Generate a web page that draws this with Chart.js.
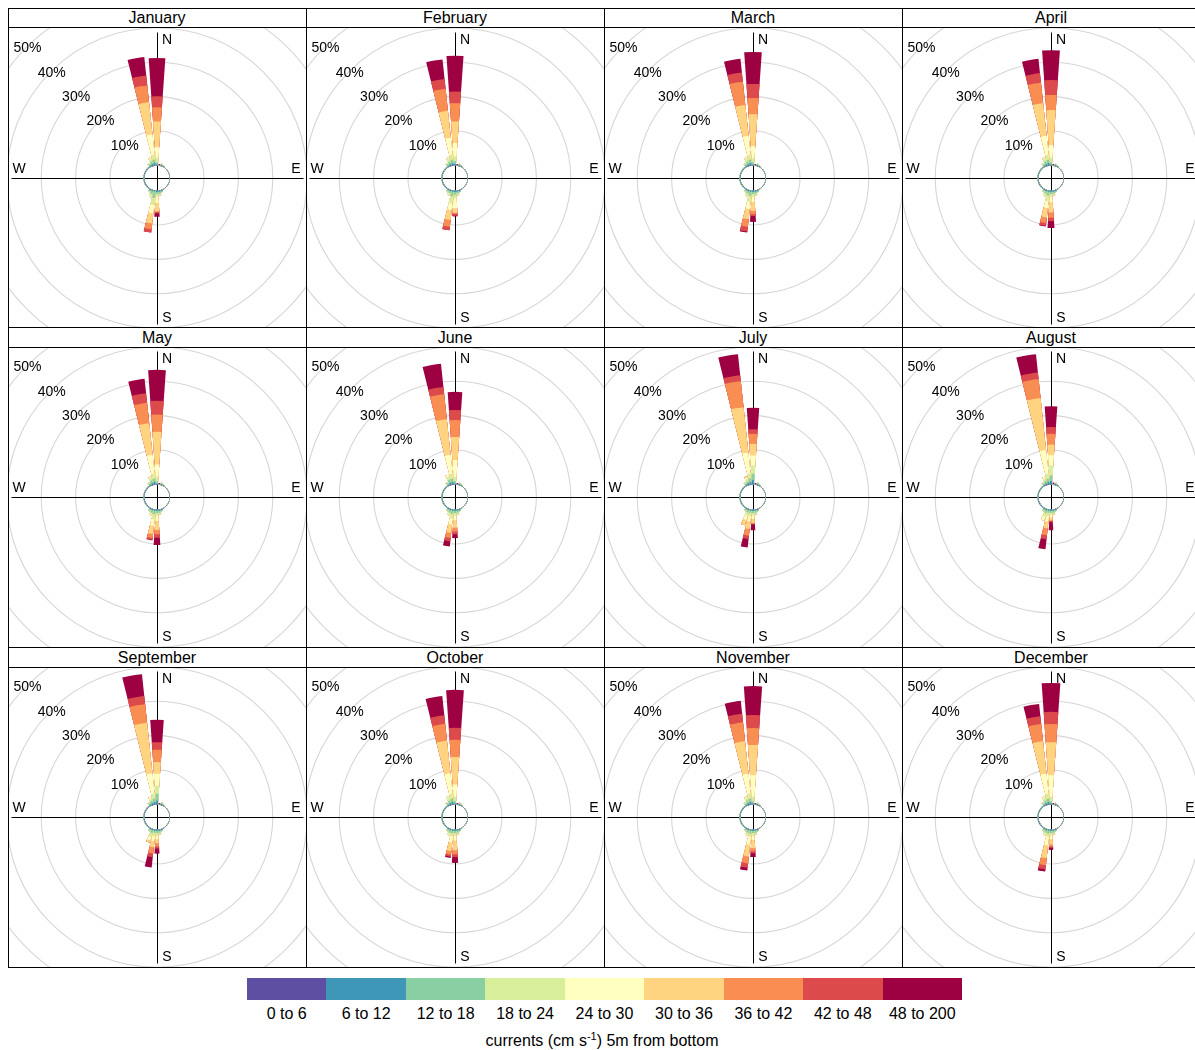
<!DOCTYPE html>
<html>
<head>
<meta charset="utf-8">
<script src="https://cdn.jsdelivr.net/npm/chart.js@4.4.1/dist/chart.umd.min.js"></script>
<style>
  body { margin: 0; background: #fff; font-family: "Liberation Sans", Arial, sans-serif; }
  #root { position: relative; width: 1195px; height: 1050px; overflow: hidden; background: #fff; }
  .plot { position: absolute; overflow: hidden; }
  .plot canvas { position: absolute; }
  .strip { position: absolute; width: 298px; text-align: center; font-size: 16px; color: #000; }
  .hl { position: absolute; height: 1px; background: #000; z-index: 5; }
  .vl { position: absolute; width: 1px; background: #000; z-index: 5; }
  .lbl { position: absolute; transform: translate(-50%, -50%); white-space: nowrap; color: #000; font-size: 14px; z-index: 4; }
  .sw { position: absolute; top: 978px; height: 22px; }
  .leg { position: absolute; transform: translate(-50%, -50%); white-space: nowrap; color: #000; font-size: 16px; }
</style>
</head>
<body>
<div id="root"></div>
<script>
// ---------------- DATA ----------------
const months = ['January','February','March','April','May','June','July','August','September','October','November','December'];
const directions = [0,10,20,30,40,50,60,70,80,90,100,110,120,130,140,150,160,170,180,190,200,210,220,230,240,250,260,270,280,290,300,310,320,330,340,350];
const speedBins = ['0 to 6','6 to 12','12 to 18','18 to 24','24 to 30','30 to 36','36 to 42','42 to 48','48 to 200'];
const ringTicks = [0,10,20,30,40,50];
const legendTitle = 'currents (cm s<sup>-1</sup>) 5m from bottom';

// one row per direction (0°..350°), columns = % frequency per speed bin (trailing zeros omitted)
const january = [
  [.1,.2,.6,1.3,3.1,7.5,4.1,3.2,11.1], [.05,.1,0,0,0,0,0,0,.3], [.1,.2,.3,.1], [.1,.15,.1],
  [.08,.05],[.08,.05],[.08,.05],[.08,.05],[.08,.05],[.08,.05],[.08,.05],[.08,.05],[.08,.05],[.08,.05],[.08,.05],[.08,.08],
  [.1,.3,.3], [.1,.3,.6,.4], [.1,.3,.6,.7,1.9,2.4,.3,.3,1.0], [.1,.2,1.9,2.0,2.5,2.9,1.7,1.0],
  [.1,.3,.8,.7,.3], [.1,.3,.4,.2],
  [.08,.22],[.08,.22],[.08,.22],[.08,.22],[.08,.22],[.08,.22],[.08,.22],[.08,.22],[.08,.22],[.08,.22],[.08,.22],
  [.1,.3,.5,.3], [.2,.4,.8,.8,.4], [.2,.6,.9,1.5,5.9,9.4,4.9,2.9,5.4]
];
const february = [
  [.1,.3,.9,1.3,3.9,6.3,5.3,3.4,10.4], [.05,.1,0,0,0,0,0,0,.3], [.1,.2,.3,.1], [.1,.15,.1],
  [.08,.05],[.08,.05],[.08,.05],[.08,.05],[.08,.05],[.08,.05],[.08,.05],[.08,.05],[.08,.05],[.08,.05],[.08,.05],[.08,.08],
  [.1,.3,.3], [.1,.3,.6,.4], [.1,.3,.8,1.0,2.9,1.4,.2,.6,.2], [.1,.3,1.3,2.0,2.0,2.9,2.0,1.0],
  [.1,.3,.6,.5,.2], [.1,.3,.4,.2],
  [.08,.22],[.08,.22],[.08,.22],[.08,.22],[.08,.22],[.08,.22],[.08,.22],[.08,.22],[.08,.22],[.08,.22],[.08,.22],
  [.1,.3,.5,.3], [.2,.4,.8,.8,.4], [.2,.6,.9,1.5,4.9,7.9,6.4,2.9,5.7]
];
const march = [
  [.1,.2,.6,1.2,3.5,9.3,4.7,4.1,9.3], [.05,.1,0,0,0,0,0,0,.3], [.1,.2,.3,.1], [.1,.15,.1],
  [.08,.05],[.08,.05],[.08,.05],[.08,.05],[.08,.05],[.08,.05],[.08,.05],[.08,.05],[.08,.05],[.08,.05],[.08,.05],[.08,.08],
  [.1,.3,.3], [.1,.3,.6,.4], [.1,.3,.6,.8,1.5,2.6,1.0,.5,1.7], [.1,.3,1.2,1.8,2.0,3.0,2.2,1.4,.3],
  [.1,.3,.7,.6,.3], [.1,.3,.4,.2],
  [.08,.22],[.08,.22],[.08,.22],[.08,.22],[.08,.22],[.08,.22],[.08,.22],[.08,.22],[.08,.22],[.08,.22],[.08,.22],
  [.1,.3,.5,.3], [.2,.4,.8,.8,.4], [.2,.6,.9,1.5,5.5,9.0,6.8,2.7,4.0]
];
const april = [
  [.1,.2,.6,1.3,3.7,10.2,4.4,4.3,8.7], [.05,.1,0,0,0,0,0,0,.3], [.1,.2,.3,.1], [.1,.15,.1],
  [.08,.05],[.08,.05],[.08,.05],[.08,.05],[.08,.05],[.08,.05],[.08,.05],[.08,.05],[.08,.05],[.08,.05],[.08,.05],[.08,.08],
  [.1,.3,.3], [.1,.3,.6,.4], [.1,.3,.6,.8,1.6,3.0,1.5,1.0,2.0], [.1,.3,1.1,1.6,2.0,2.8,1.6,.8,.2],
  [.1,.3,.7,.6,.3], [.1,.3,.4,.2],
  [.08,.22],[.08,.22],[.08,.22],[.08,.22],[.08,.22],[.08,.22],[.08,.22],[.08,.22],[.08,.22],[.08,.22],[.08,.22],
  [.1,.3,.5,.3], [.2,.4,.8,.8,.4], [.2,.6,.9,1.5,5.5,9.5,6.0,2.8,4.2]
];
const may = [
  [.1,.2,.6,1.3,3.6,9.5,5.0,4.0,9.0], [.05,.1,0,0,0,0,0,0,.3], [.1,.2,.3,.1], [.1,.15,.1],
  [.08,.05],[.08,.05],[.08,.05],[.08,.05],[.08,.05],[.08,.05],[.08,.05],[.08,.05],[.08,.05],[.08,.05],[.08,.05],[.08,.08],
  [.1,.3,.3], [.1,.3,.6,.4], [.1,.3,.6,.8,1.5,2.6,1.3,1.0,2.1], [.1,.3,1.0,1.5,1.8,2.4,1.2,.6,.1],
  [.1,.3,.7,.6,.3], [.1,.3,.4,.2],
  [.08,.22],[.08,.22],[.08,.22],[.08,.22],[.08,.22],[.08,.22],[.08,.22],[.08,.22],[.08,.22],[.08,.22],[.08,.22],
  [.1,.3,.5,.3], [.2,.4,.8,.8,.4], [.2,.6,.9,1.5,5.5,9.2,6.0,2.8,4.2]
];
const june = [
  [.1,.2,.6,1.2,5.0,6.7,4.9,2.9,5.3], [.05,.1,0,0,0,0,0,0,.3], [.1,.2,.3,.1], [.1,.15,.1],
  [.08,.05],[.08,.05],[.08,.05],[.08,.05],[.08,.05],[.08,.05],[.08,.05],[.08,.05],[.08,.05],[.08,.05],[.08,.05],[.08,.08],
  [.1,.3,.3], [.1,.3,.6,.4], [.1,.3,.6,.8,1.3,2.2,1.1,.8,1.1], [.1,.3,.9,1.3,1.8,2.4,1.5,1.0,1.5],
  [.1,.3,.7,.6,.3], [.1,.3,.4,.2],
  [.08,.22],[.08,.22],[.08,.22],[.08,.22],[.08,.22],[.08,.22],[.08,.22],[.08,.22],[.08,.22],[.08,.22],[.08,.22],
  [.1,.3,.5,.3], [.2,.5,.9,.9,.6], [.2,.6,.9,1.5,5.5,10.4,7.3,2.1,6.8]
];
const july = [
  [.2,1.0,1.9,2.4,2.9,3.4,2.9,1.3,6.3], [.05,.15,0,0,0,0,0,0,.3], [.1,.25,.3,.1], [.1,.15,.1],
  [.08,.05],[.08,.05],[.08,.05],[.08,.05],[.08,.05],[.08,.05],[.08,.05],[.08,.05],[.08,.05],[.08,.05],[.08,.05],[.08,.08],
  [.1,.3,.3], [.1,.3,.6,.4], [.1,.3,.6,.7,1.0,1.2,.2,.2,1.7], [.1,.3,.6,1.0,1.5,2.2,1.9,1.0,2.5],
  [.1,.3,.7,.9,1.3,1.6], [.1,.3,.4,.2],
  [.08,.22],[.08,.22],[.08,.22],[.08,.22],[.08,.22],[.08,.22],[.08,.22],[.08,.22],[.08,.22],[.08,.22],[.08,.22],
  [.1,.3,.5,.3], [.2,.4,.6,.6,.5,.3], [.2,.6,1.0,1.5,6.0,13.3,7.6,1.7,6.2]
];
const august = [
  [.2,.8,1.6,2.9,3.0,3.1,3.1,2.0,6.0], [.05,.15,0,0,0,0,0,0,.4], [.1,.25,.3,.1], [.1,.15,.1],
  [.08,.05],[.08,.05],[.08,.05],[.08,.05],[.08,.05],[.08,.05],[.08,.05],[.08,.05],[.08,.05],[.08,.05],[.08,.05],[.08,.08],
  [.1,.3,.3], [.1,.3,.6,.4], [.1,.3,.5,.6,.8,.8,.2,.3,2.4], [.1,.3,.6,1.0,1.5,2.0,2.0,1.2,2.9],
  [.1,.3,.8,1.0,1.3], [.1,.3,.4,.2],
  [.08,.22],[.08,.22],[.08,.22],[.08,.22],[.08,.22],[.08,.22],[.08,.22],[.08,.22],[.08,.22],[.08,.22],[.08,.22],
  [.1,.3,.5,.3], [.2,.4,.7,.7,.5], [.2,.6,.9,1.5,6.9,15.2,5.5,1.9,5.4]
];
const september = [
  [.2,.9,2.0,2.4,3.4,3.4,3.6,2.2,6.5], [.05,.15,0,0,0,0,0,0,.3], [.1,.25,.3,.1], [.1,.15,.1],
  [.08,.05],[.08,.05],[.08,.05],[.08,.05],[.08,.05],[.08,.05],[.08,.05],[.08,.05],[.08,.05],[.08,.05],[.08,.05],[.08,.08],
  [.1,.3,.3], [.1,.3,.6,.4], [.1,.3,.6,.8,1.0,1.2,.9,.6,1.5], [.1,.3,.6,1.0,1.4,1.8,1.8,1.1,3.0],
  [.1,.3,.8,1.2,1.0,.7], [.1,.3,.4,.2],
  [.08,.22],[.08,.22],[.08,.22],[.08,.22],[.08,.22],[.08,.22],[.08,.22],[.08,.22],[.08,.22],[.08,.22],[.08,.22],
  [.1,.3,.5,.3], [.2,.4,.7,.7,.5], [.2,.6,.9,1.5,5.9,14.8,5.4,2.4,6.4]
];
const october = [
  [.1,.2,.6,1.3,3.6,8.0,5.0,3.5,11.0], [.05,.1,0,0,0,0,0,0,.3], [.1,.2,.3,.1], [.1,.15,.1],
  [.08,.05],[.08,.05],[.08,.05],[.08,.05],[.08,.05],[.08,.05],[.08,.05],[.08,.05],[.08,.05],[.08,.05],[.08,.05],[.08,.08],
  [.1,.3,.3], [.1,.3,.6,.4], [.1,.3,.6,.8,1.4,2.8,1.2,.8,1.7], [.1,.3,.7,1.0,1.8,2.4,1.0,.6,.4],
  [.1,.3,.7,.6,.3], [.1,.3,.4,.2],
  [.08,.22],[.08,.22],[.08,.22],[.08,.22],[.08,.22],[.08,.22],[.08,.22],[.08,.22],[.08,.22],[.08,.22],[.08,.22],
  [.1,.3,.5,.3], [.2,.4,.8,.8,.4], [.2,.6,.9,1.5,5.9,9.5,5.0,2.5,5.6]
];
const november = [
  [.1,.2,.6,1.3,6.3,8.8,4.9,3.8,8.4], [.05,.1,0,0,0,0,0,0,.3], [.1,.2,.3,.1], [.1,.15,.1],
  [.08,.05],[.08,.05],[.08,.05],[.08,.05],[.08,.05],[.08,.05],[.08,.05],[.08,.05],[.08,.05],[.08,.05],[.08,.05],[.08,.08],
  [.1,.3,.3], [.1,.3,.6,.4], [.1,.3,.6,.8,1.2,2.4,.9,.6,1.1], [.1,.3,.8,1.0,2.2,3.5,2.0,1.3,.8],
  [.1,.3,.7,.6,.3], [.1,.3,.4,.2],
  [.08,.22],[.08,.22],[.08,.22],[.08,.22],[.08,.22],[.08,.22],[.08,.22],[.08,.22],[.08,.22],[.08,.22],[.08,.22],
  [.1,.3,.5,.3], [.2,.4,.8,.8,.4], [.2,.6,.9,1.5,5.8,9.5,5.5,2.5,3.8]
];
const december = [
  [.1,.2,.6,1.3,6.3,9.6,5.3,3.5,8.4], [.05,.1,0,0,0,0,0,0,.3], [.1,.2,.3,.1], [.1,.15,.1],
  [.08,.05],[.08,.05],[.08,.05],[.08,.05],[.08,.05],[.08,.05],[.08,.05],[.08,.05],[.08,.05],[.08,.05],[.08,.05],[.08,.08],
  [.1,.3,.3], [.1,.3,.6,.4], [.1,.3,.6,.8,1.0,1.5,.6,.4,.6], [.1,.3,.8,1.0,2.4,3.8,2.0,1.2,.7],
  [.1,.3,.7,.6,.3], [.1,.3,.4,.2],
  [.08,.22],[.08,.22],[.08,.22],[.08,.22],[.08,.22],[.08,.22],[.08,.22],[.08,.22],[.08,.22],[.08,.22],[.08,.22],
  [.1,.3,.5,.3], [.2,.4,.8,.8,.4], [.2,.6,.9,1.5,5.8,9.5,5.0,2.3,3.6]
];
const monthData = [january, february, march, april, may, june, july, august, september, october, november, december];

// ---------------- STYLE / LAYOUT ----------------
const binColors = ['#5E4FA2','#3F97B7','#88D0A4','#D7EF9B','#FFFFBF','#FED480','#F98E52','#DD4A4C','#9E0142'];
const OFFSET_MIN = -3.66;     // calm-circle offset (value at the centre)
const SCALE_MAX = 60;
const HALF = 219;              // canvas half size
const BAR_DEG = 8, GAP_DEG = 2;
const colLeft = [8, 306, 604, 902];
const stripTop = [8, 327, 647];
const stripBottom = [27, 347, 667];
const plotBottom = [327, 647, 967];
const rowCenter = [178, 497, 817];

const root = document.getElementById('root');
function el(cls, css, html) {
  const d = document.createElement('div');
  d.className = cls;
  Object.assign(d.style, css);
  if (html !== undefined) d.innerHTML = html;
  root.appendChild(d);
  return d;
}

// frame lines
[8, 27, 327, 347, 647, 667, 967].forEach(y => el('hl', {left: '8px', top: y + 'px', width: '1192px'}));
colLeft.forEach(x => el('vl', {left: x + 'px', top: '8px', height: '960px'}));

const panelPlugin = {
  id: 'panelDecor',
  beforeDatasetsDraw(chart) {
    const s = chart.scales.r;
    const r0 = s.getDistanceFromCenterForValue(0);
    chart.getSortedVisibleDatasetMetas().forEach(m => m.data.forEach(a => { a.innerRadius = r0; }));
    const c = chart.ctx;
    const x = s.xCenter + 0.5, y = s.yCenter + 0.5;
    c.save();
    c.strokeStyle = '#000';
    c.lineWidth = 1;
    c.beginPath();
    c.moveTo(x, y - 146); c.lineTo(x, y + 146);
    c.moveTo(x - 146, y); c.lineTo(x + 146, y);
    c.stroke();
    c.restore();
  }
};

monthData.forEach((rows, m) => {
  if (rows.length !== directions.length) throw new Error('bad rows ' + months[m] + ' ' + rows.length);
  const col = m % 4, row = Math.floor(m / 4);
  const L = colLeft[col];
  const cx = L + 149, cy = rowCenter[row];
  el('strip', {left: L + 'px', top: stripTop[row] + 'px', height: (stripBottom[row] - stripTop[row]) + 'px',
               lineHeight: (stripBottom[row] - stripTop[row] + 1) + 'px'}, months[m]);
  const pl = L + 1, pt = stripBottom[row] + 1;
  const plot = el('plot', {left: pl + 'px', top: pt + 'px', width: '297px', height: (plotBottom[row] - pt) + 'px'});
  const cv = document.createElement('canvas');
  cv.width = 2 * HALF; cv.height = 2 * HALF;
  cv.style.left = (cx - HALF - pl) + 'px';
  cv.style.top = (cy - HALF - pt) + 'px';
  plot.appendChild(cv);

  // cumulative stacks: one dataset per speed bin, bar + gap element per direction
  const datasets = speedBins.map((bin, k) => {
    const data = [];
    rows.forEach(r => {
      let cum = 0;
      for (let j = 0; j <= k; j++) cum += (r[j] || 0);
      data.push(cum, 0);
    });
    return {
      label: bin,
      data,
      backgroundColor: ctx => (ctx.dataIndex % 2 ? 'rgba(0,0,0,0)' : binColors[k]),
      angle: ctx => (ctx.dataIndex % 2 ? GAP_DEG : BAR_DEG),
      borderWidth: 0
    };
  });
  const labels = [];
  directions.forEach(d => { labels.push(d + '°', ''); });

  const chart = new Chart(cv, {
    type: 'polarArea',
    data: { labels, datasets },
    options: {
      responsive: false,
      devicePixelRatio: 1,
      animation: false,
      events: [],
      layout: { padding: 0 },
      plugins: { legend: { display: false }, tooltip: { enabled: false } },
      scales: {
        r: {
          min: OFFSET_MIN, max: SCALE_MAX, startAngle: -BAR_DEG / 2, bounds: 'data',
          ticks: { display: false },
          angleLines: { display: false },
          pointLabels: { display: false },
          grid: { circular: true, lineWidth: 1.1, color: ctx => (ctx.tick && ctx.tick.value > 0 ? '#d6d6d6' : 'rgba(0,0,0,0)') },
          afterBuildTicks: ax => { ax.ticks = ringTicks.map(v => ({ value: v })); }
        }
      }
    },
    plugins: [panelPlugin]
  });

  // text labels positioned from the chart's own radial scale
  const s = chart.scales.r;
  const px = pl + (cx - HALF - pl) + s.xCenter, py = pt + (cy - HALF - pt) + s.yCenter;
  ringTicks.filter(v => v > 0).forEach(v => {
    const r = s.getDistanceFromCenterForValue(v) * Math.SQRT1_2;
    el('lbl', {left: (px - r + 1) + 'px', top: (py - r) + 'px'}, v + '%');
  });
  el('lbl', {left: (px + 10) + 'px', top: (py - 139) + 'px'}, 'N');
  el('lbl', {left: (px + 139) + 'px', top: (py - 10) + 'px'}, 'E');
  el('lbl', {left: (px + 10) + 'px', top: (py + 139) + 'px'}, 'S');
  el('lbl', {left: (px - 138) + 'px', top: (py - 10) + 'px'}, 'W');
});

// legend colour bar
const legL = 247, legW = 715;
speedBins.forEach((bin, k) => {
  const a = Math.round(legL + k * legW / 9), b = Math.round(legL + (k + 1) * legW / 9);
  el('sw', {left: a + 'px', width: (b - a) + 'px', background: binColors[k]});
  el('leg', {left: (legL + (k + 0.5) * legW / 9) + 'px', top: '1014px'}, bin);
});
el('leg', {left: '602px', top: '1040px'}, legendTitle.replace('<sup>', '<sup style="font-size:11px">'));
</script>
</body>
</html>
